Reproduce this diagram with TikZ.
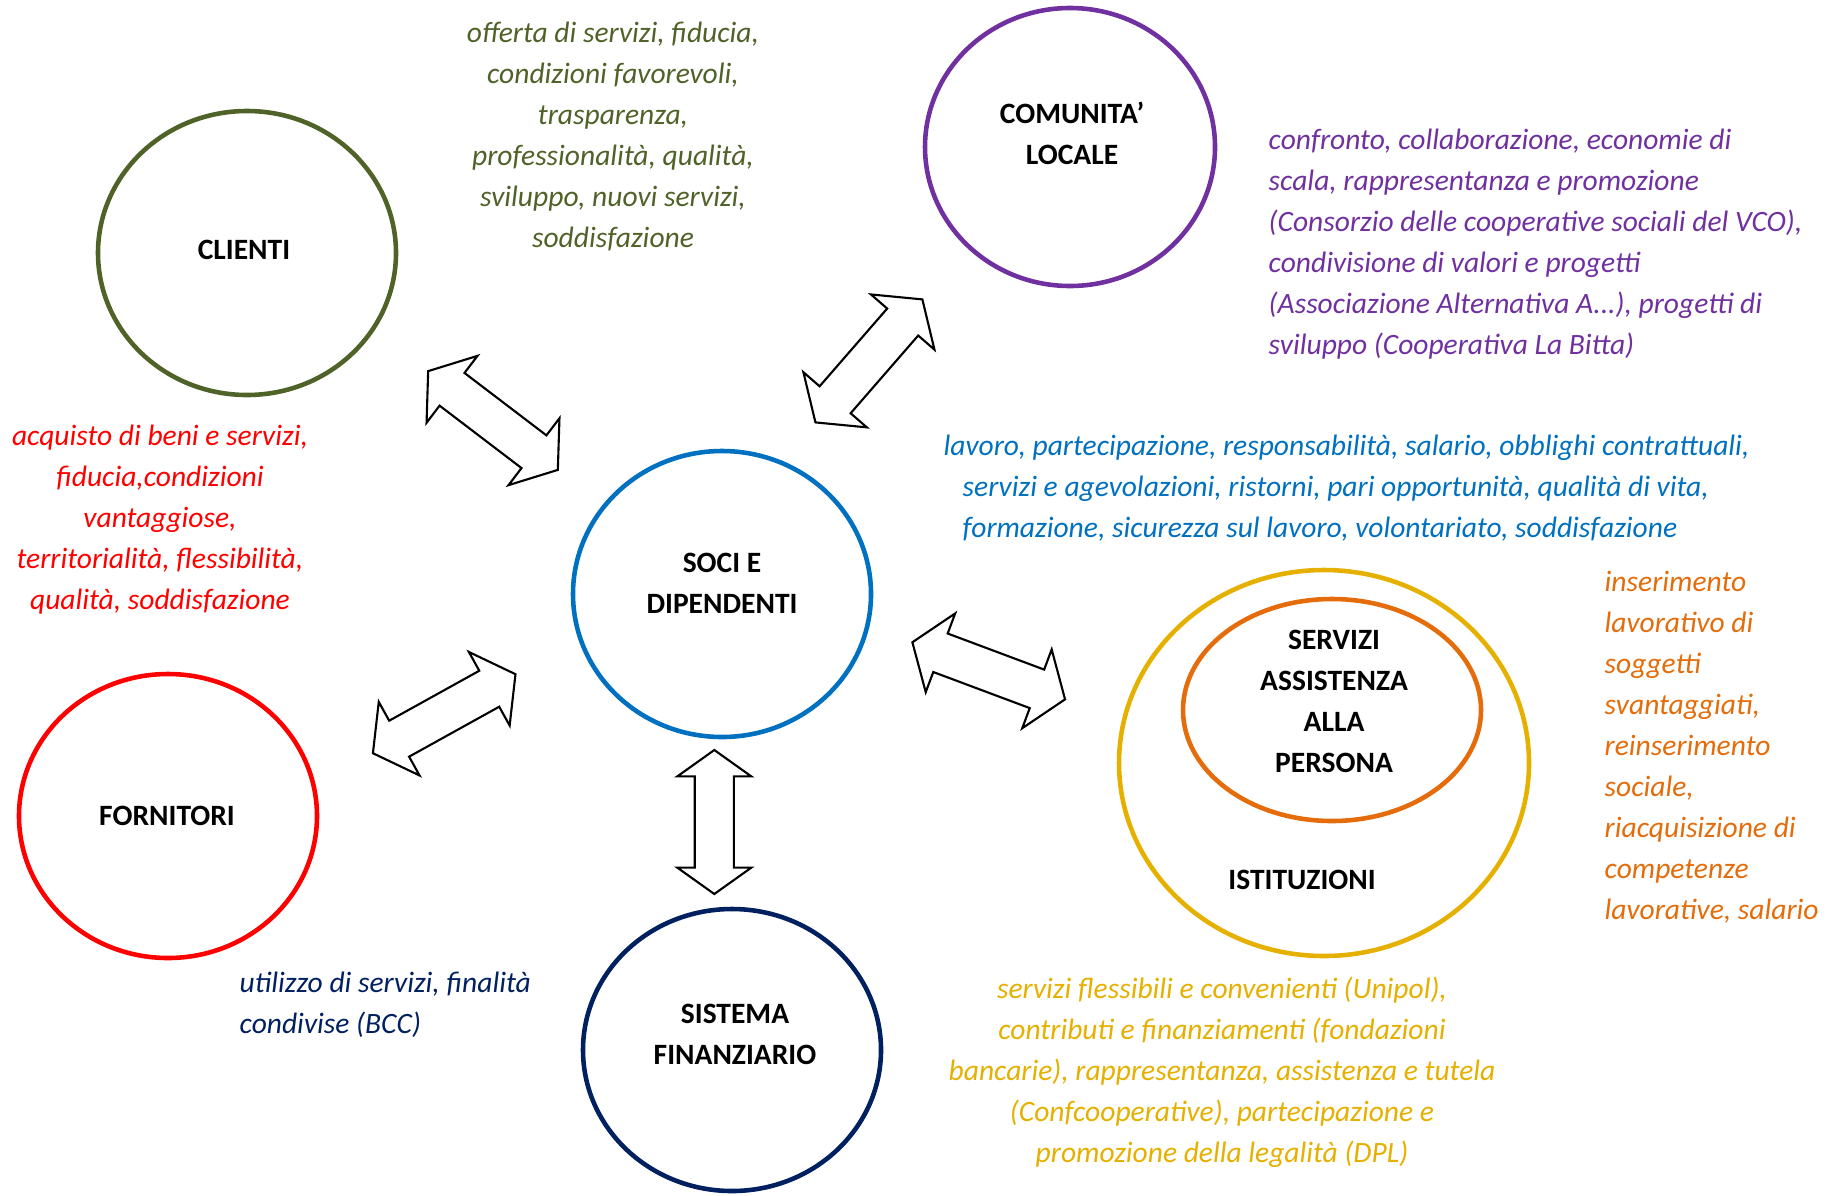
\documentclass[tikz,border=0pt]{standalone}
\usepackage{fontspec}
\setmainfont{Carlito}
\usetikzlibrary{shapes.geometric,shapes.arrows}
\definecolor{cliGreen}{HTML}{4F6228}
\definecolor{comPurple}{HTML}{7030A0}
\definecolor{sociBlue}{HTML}{0070C0}
\definecolor{forRed}{HTML}{FF0000}
\definecolor{finNavy}{HTML}{002060}
\definecolor{istGold}{HTML}{E6B000}
\definecolor{serOrange}{HTML}{E46C0A}
\newcommand{\basesize}{\fontsize{8.4}{11.66}\selectfont}
\tikzset{
  ringnode/.style={ellipse,draw=#1,line width=1.3pt,inner sep=0pt},
  namenode/.style={font=\basesize\bfseries,align=center,inner sep=0pt},
  notenode/.style={font=\basesize\itshape,text=#1,inner sep=0pt},
  linkarrow/.style={double arrow,draw,fill=white,line width=0.6pt,line join=miter,
    inner xsep=0pt,inner ysep=1.95mm,minimum height=16.3mm,
    double arrow head extend=2.15mm,double arrow tip angle=109},
  every picture/.style={line cap=round,line join=round}
}

\begin{document}
\begin{tikzpicture}
  \useasboundingbox (0,0) rectangle (18.34,-11.95);
  % rings
  \node[ringnode=cliGreen,minimum width=2.98cm,minimum height=2.84cm] (cli) at (2.47,-2.53) {};
  \node[ringnode=comPurple,minimum width=2.90cm,minimum height=2.78cm] (com) at (10.70,-1.47) {};
  \node[ringnode=sociBlue,minimum width=2.98cm,minimum height=2.86cm] (soci) at (7.22,-5.94) {};
  \node[ringnode=forRed,minimum width=2.98cm,minimum height=2.84cm] (forn) at (1.68,-8.16) {};
  \node[ringnode=finNavy,minimum width=2.98cm,minimum height=2.82cm] (fin) at (7.32,-10.50) {};
  \node[ringnode=istGold,minimum width=4.10cm,minimum height=3.86cm] (ist) at (13.24,-7.63) {};
  \node[ringnode=serOrange,minimum width=2.98cm,minimum height=2.22cm] (serv) at (13.32,-7.10) {};
  % names
  \node[namenode] (cliT) at (2.44,-2.50) {CLIENTI};
  \node[namenode] (comT) at (10.72,-1.33) {COMUNITA’\\LOCALE};
  \node[namenode] (sociT) at (7.22,-5.835) {SOCI E\\DIPENDENTI};
  \node[namenode] (fornT) at (1.67,-8.16) {FORNITORI};
  \node[namenode] (finT) at (7.35,-10.345) {SISTEMA\\FINANZIARIO};
  \node[namenode] (servT) at (13.34,-7.015) {SERVIZI\\ASSISTENZA\\ALLA\\PERSONA};
  \node[namenode] (istT) at (13.02,-8.80) {ISTITUZIONI};
  % arrows
  \node[linkarrow,rotate=-37.3] (a1) at (4.93,-4.205) {};
  \node[linkarrow,rotate=49] (a2) at (8.689,-3.609) {};
  \node[linkarrow,rotate=-20.5] (a3) at (9.887,-6.708) {};
  \node[linkarrow,rotate=90,inner ysep=1.85mm,minimum height=14.4mm,
        double arrow head extend=1.75mm] (a4) at (7.143,-8.22) {};
  \node[linkarrow,rotate=29] (a5) at (4.442,-7.137) {};
  % notes
  \node[notenode=cliGreen,align=center] (cliN) at (6.13,-1.365)
    {offerta di servizi, fiducia,\\condizioni favorevoli,\\trasparenza,\\professionalità, qualità,\\sviluppo, nuovi servizi,\\soddisfazione};
  \node[notenode=comPurple,align=left,anchor=west] (comN) at (12.68,-2.44)
    {confronto, collaborazione, economie di\\scala, rappresentanza e promozione\\(Consorzio delle cooperative sociali del VCO),\\condivisione di valori e progetti\\(Associazione Alternativa A...), progetti di\\sviluppo (Cooperativa La Bitta)};
  \node[notenode=forRed,align=center] (fornN) at (1.60,-5.20)
    {acquisto di beni e servizi,\\fiducia,condizioni\\vantaggiose,\\territorialità, flessibilità,\\qualità, soddisfazione};
  \node[notenode=sociBlue,align=left,anchor=west] (sociN) at (9.43,-4.88)
    {lavoro, partecipazione, responsabilità, salario, obblighi contrattuali,\\
     \hspace*{0.19cm}servizi e agevolazioni, ristorni, pari opportunità, qualità di vita,\\
     \hspace*{0.19cm}formazione, sicurezza sul lavoro, volontariato, soddisfazione};
  \node[notenode=serOrange,align=left,anchor=west] (servN) at (16.04,-7.475)
    {inserimento\\lavorativo di\\soggetti\\svantaggiati,\\reinserimento\\sociale,\\riacquisizione di\\competenze\\lavorative, salario};
  \node[notenode=istGold,align=center] (istN) at (12.22,-10.725)
    {servizi flessibili e convenienti (Unipol),\\contributi e finanziamenti (fondazioni\\bancarie), rappresentanza, assistenza e tutela\\(Confcooperative), partecipazione e\\promozione della legalità (DPL)};
  \node[notenode=finNavy,align=left,anchor=west] (finN) at (2.39,-10.045)
    {utilizzo di servizi, finalità\\condivise (BCC)};
\end{tikzpicture}
\end{document}
